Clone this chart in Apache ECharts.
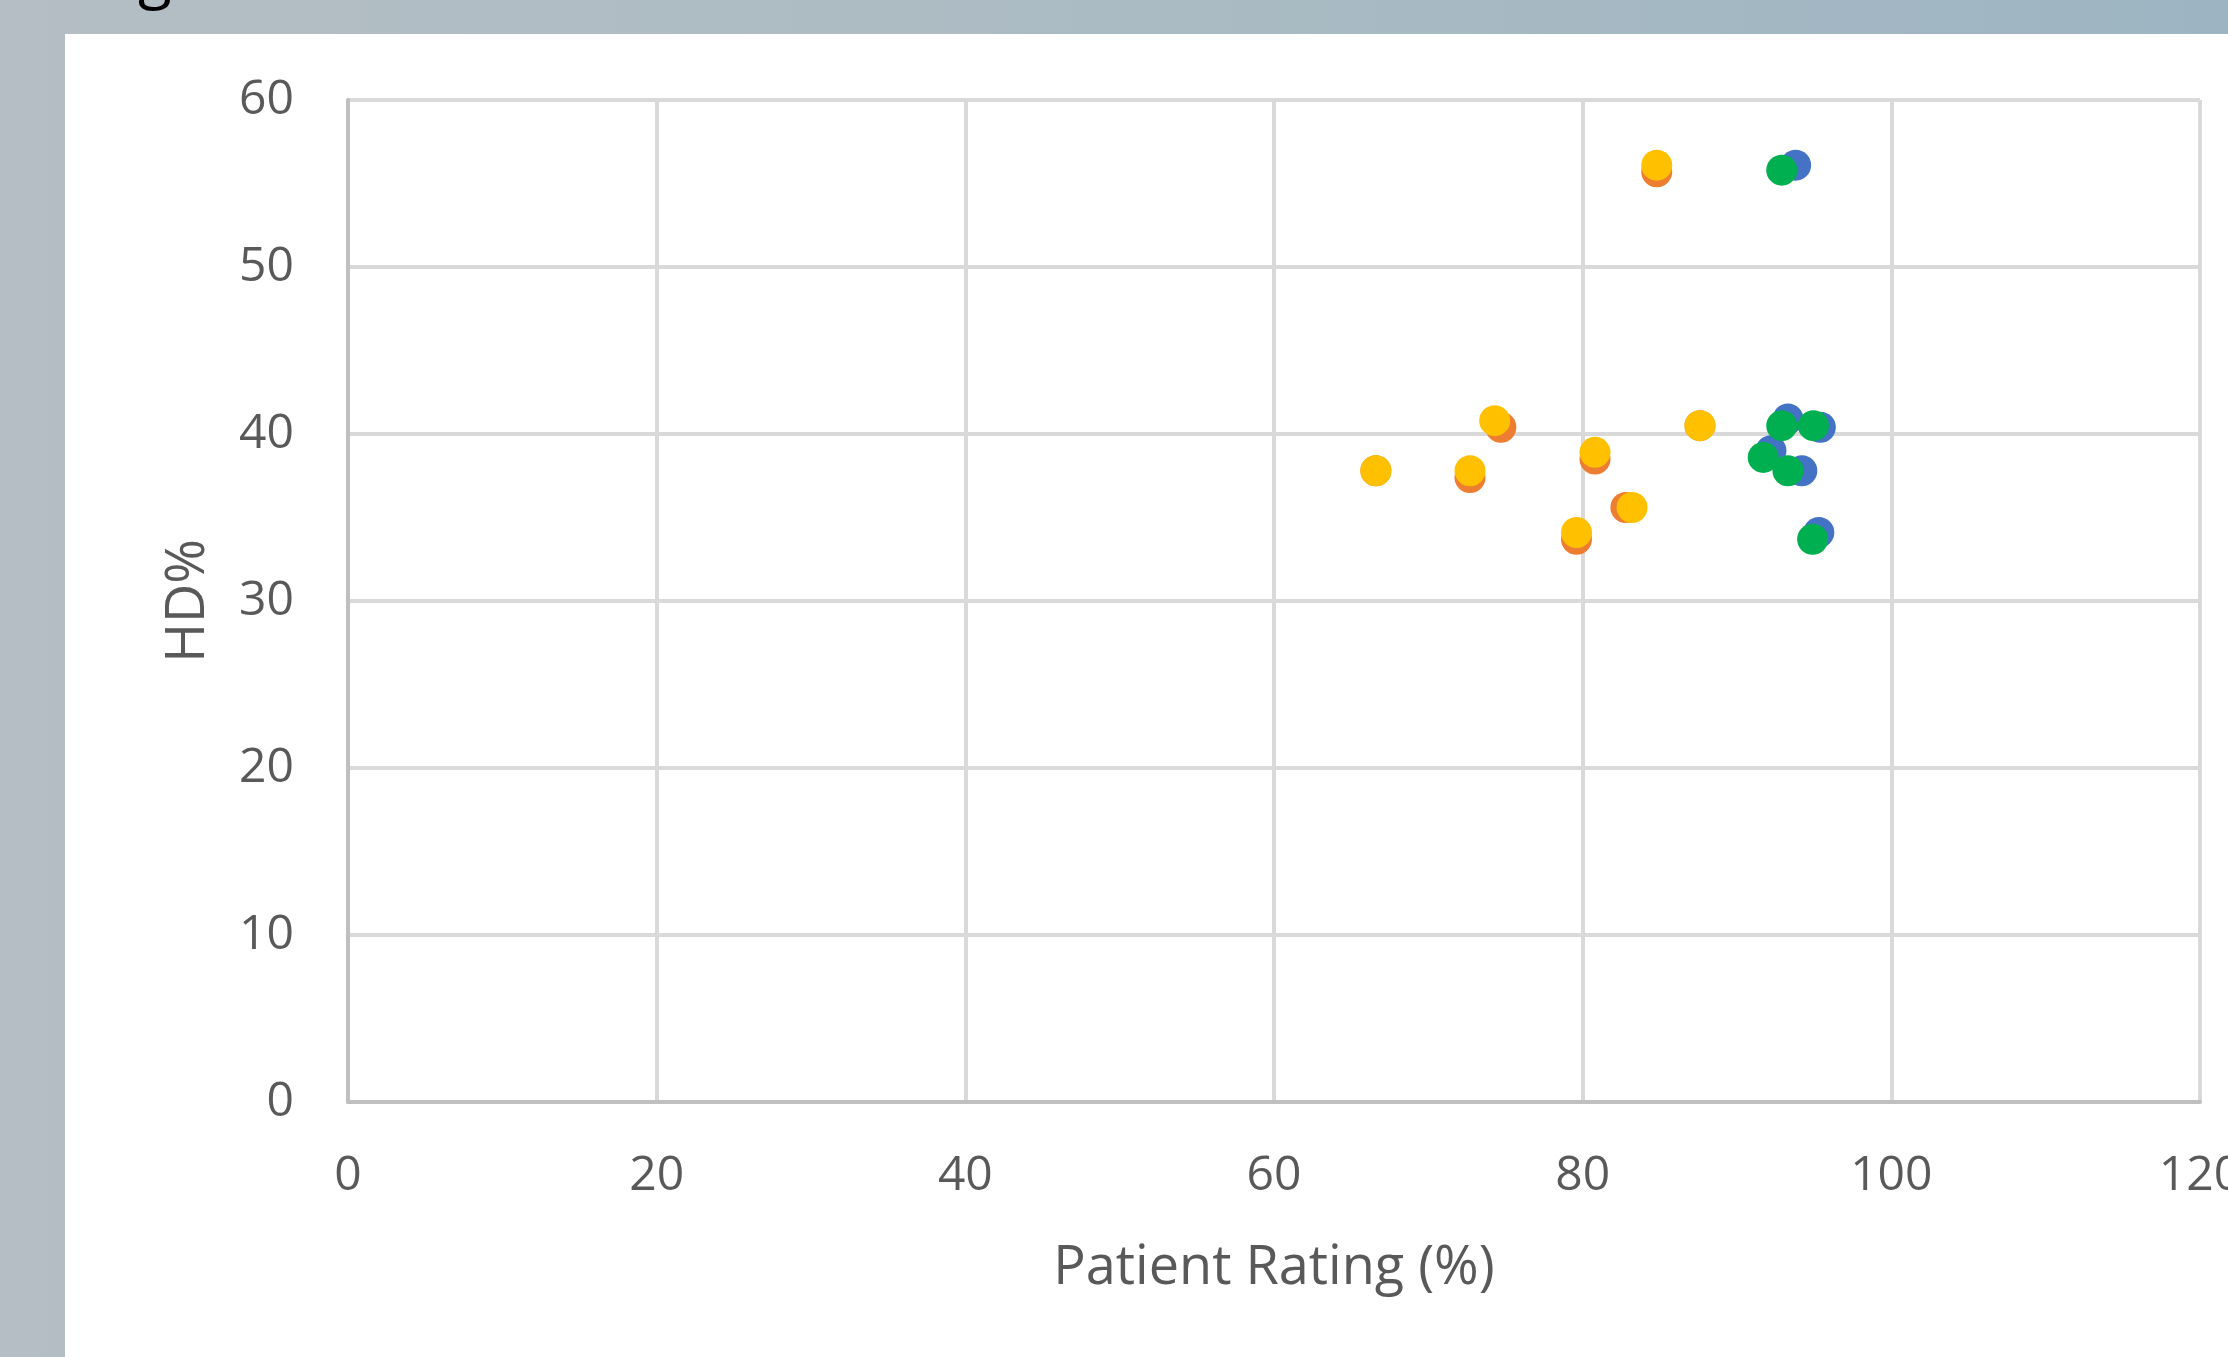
<!DOCTYPE html>
<html>
<head>
<meta charset="utf-8">
<script src="https://cdn.jsdelivr.net/npm/echarts@6/dist/echarts.min.js"></script>
<style>
  html, body { margin: 0; padding: 0; }
  body {
    width: 2228px; height: 1357px; overflow: hidden; position: relative;
    background: linear-gradient(to right, #b4bec4 0%, #abbbc3 50%, #9db5c2 100%);
  }
  #panel { position: absolute; left: 65px; top: 34px; right: 0; bottom: 0; background: #fff; }
  #main { position: absolute; left: 0; top: 0; width: 2228px; height: 1357px; }
</style>
</head>
<body>
<div id="panel"></div>
<div id="main"></div>
<script>
// values
var blueX = [93.8, 93.3, 95.4, 92.2, 94.2, 95.3];
var blueY = [56.1, 40.9, 40.4, 39.0, 37.8, 34.1];
var greenX = [92.9, 92.9, 94.95, 91.7, 93.3, 94.9];
var greenY = [55.8, 40.5, 40.5, 38.6, 37.8, 33.7];
var orangeX = [84.8, 66.6, 72.7, 74.7, 80.8, 82.8, 79.6, 87.6];
var orangeY = [55.7, 37.8, 37.4, 40.4, 38.5, 35.6, 33.7, 40.5];
var yellowX = [84.8, 66.6, 72.7, 74.3, 80.8, 83.2, 79.6, 87.6];
var yellowY = [56.1, 37.8, 37.8, 40.8, 38.9, 35.6, 34.1, 40.5];

function pairs(xs, ys) {
  return xs.map(function (x, i) { return [x, ys[i]]; });
}

var chartDom = document.getElementById('main');
var myChart = echarts.init(chartDom);
var option;

var font = '"Open Sans", "Noto Sans", sans-serif';

option = {
  animation: false,
  backgroundColor: 'transparent',
  graphic: [
    {
      type: 'text',
      left: 138,
      top: -53,
      style: { text: 'g', font: '62px "Open Sans", sans-serif', fill: '#000' }
    }
  ],
  grid: { left: 348, right: 28, top: 100, bottom: 255, outerBoundsMode: 'none', containLabel: false },
  xAxis: {
    type: 'value',
    min: 0,
    max: 120,
    interval: 20,
    name: 'Patient Rating (%)',
    nameLocation: 'middle',
    nameGap: 140,
    nameTextStyle: { fontFamily: font, fontSize: 54, color: '#595959' },
    axisLine: { show: true, lineStyle: { color: '#bfbfbf', width: 4 } },
    axisTick: { show: false },
    axisLabel: { fontFamily: font, fontSize: 48, color: '#595959', margin: 50 },
    splitLine: { show: true, lineStyle: { color: '#d9d9d9', width: 4 } }
  },
  yAxis: {
    type: 'value',
    min: 0,
    max: 60,
    interval: 10,
    name: 'HD%',
    nameLocation: 'middle',
    nameGap: 132,
    nameTextStyle: { fontFamily: font, fontSize: 54, color: '#595959' },
    axisLine: { show: true, lineStyle: { color: '#bfbfbf', width: 4 } },
    axisTick: { show: false },
    axisLabel: { fontFamily: font, fontSize: 48, color: '#595959', margin: 54 },
    splitLine: { show: true, lineStyle: { color: '#d9d9d9', width: 4 } }
  },
  series: [
    { name: 'A', type: 'scatter', symbolSize: 31, itemStyle: { color: '#4472C4', opacity: 1 }, data: pairs(blueX, blueY) },
    { name: 'B', type: 'scatter', symbolSize: 31, itemStyle: { color: '#ED7D31', opacity: 1 }, data: pairs(orangeX, orangeY) },
    { name: 'C', type: 'scatter', symbolSize: 31, itemStyle: { color: '#FFC000', opacity: 1 }, data: pairs(yellowX, yellowY) },
    { name: 'D', type: 'scatter', symbolSize: 31, itemStyle: { color: '#00B050', opacity: 1 }, data: pairs(greenX, greenY) }
  ]
};

option && myChart.setOption(option);
</script>
</body>
</html>
